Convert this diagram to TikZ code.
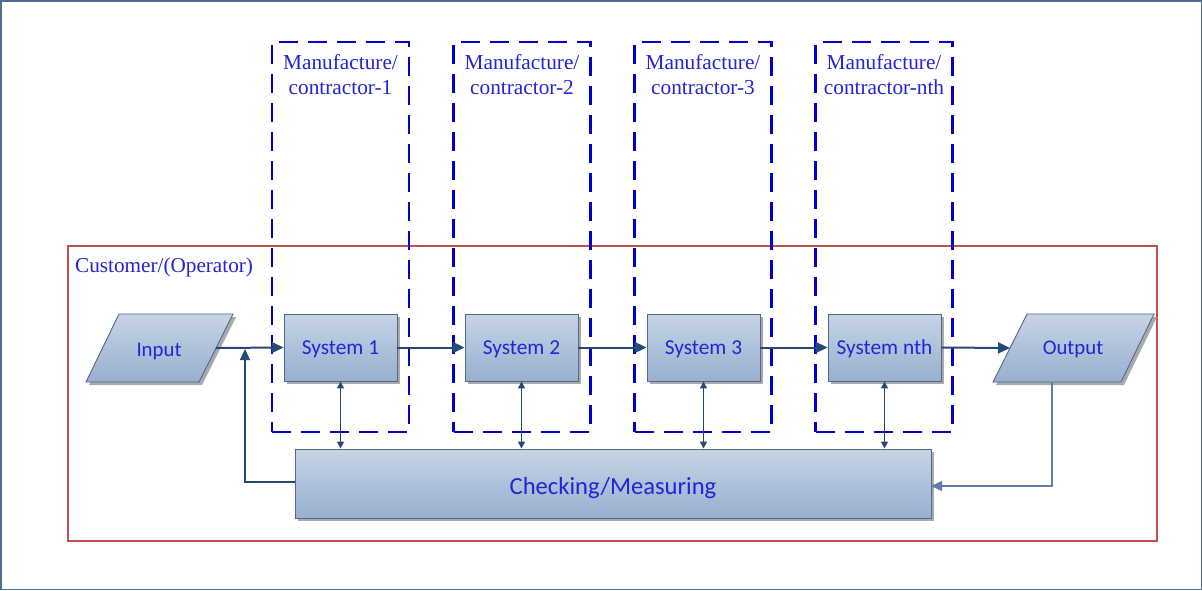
\documentclass[tikz,border=0pt]{standalone}
\usepackage{fontspec}
\setmainfont{Liberation Serif}
\newfontfamily\calfont{Carlito}
\usetikzlibrary{arrows.meta,shadows}
\definecolor{framecol}{RGB}{80,110,150}
\definecolor{redcol}{RGB}{192,80,77}
\definecolor{dashcol}{RGB}{0,0,204}
\definecolor{txtblue}{RGB}{35,35,215}
\definecolor{gtop}{RGB}{198,212,229}
\definecolor{gbot}{RGB}{152,175,207}
\definecolor{boxline}{RGB}{75,105,145}
\definecolor{arrowcol}{RGB}{38,74,120}
\definecolor{thincol}{RGB}{95,125,165}
\definecolor{shadowgray}{RGB}{170,170,170}
\begin{document}
\begin{tikzpicture}[x=1pt,y=-1pt,
  sysbox/.style={draw=boxline, line width=0.9pt, top color=gtop, bottom color=gbot,
    drop shadow={shadow xshift=3pt, shadow yshift=-3pt, fill=shadowgray, opacity=1},
    font=\calfont\fontsize{21.3}{24}\selectfont, text=txtblue, text depth=0pt,
    minimum width=113pt, minimum height=67pt, inner sep=0pt},
  dbox/.style={draw=dashcol, line width=2.8pt, dash pattern=on 19pt off 10pt,
    minimum width=137pt, minimum height=390pt, inner sep=0pt},
  mtext/.style={text=txtblue, font=\fontsize{21.3}{25}\selectfont, align=center, inner sep=0pt},
  plabel/.style={font=\calfont\fontsize{20.8}{24}\selectfont, text=txtblue, text depth=0pt, inner sep=0pt},
  flow/.style={draw=arrowcol, line width=2pt, -{Triangle[length=12pt,width=11pt]}},
  dbl/.style={draw=arrowcol, line width=1.4pt, {Triangle[length=7pt,width=7pt]}-{Triangle[length=7pt,width=7pt]}},
  fb/.style={draw=arrowcol, line width=1.2pt, -{Triangle[length=11pt,width=10pt]}},
  fbo/.style={draw=thincol, line width=1.3pt, -{Triangle[length=11pt,width=10pt]}},
]
\useasboundingbox (0,0) rectangle (1202,590);
\draw[framecol, line width=1.5pt] (0.75,0.75) rectangle (1201.25,589.25);

% customer box
\draw[redcol, line width=2.2pt] (68,246) rectangle (1157,541);
\node[text=txtblue, font=\fontsize{21.2}{24}\selectfont, anchor=west, inner sep=0pt] (cust) at (75,267) {Customer/(Operator)};

% manufacturer boxes
\node[dbox] (m1) at (340.5,237) {};
\node[dbox] (m2) at (522,237) {};
\node[dbox] (m3) at (703,237) {};
\node[dbox] (m4) at (884,237) {};
\node[mtext] (m1t) at (340.5,75) {Manufacture/\\contractor-1};
\node[mtext] (m2t) at (522,75) {Manufacture/\\contractor-2};
\node[mtext] (m3t) at (703,75) {Manufacture/\\contractor-3};
\node[mtext] (m4t) at (884,75) {Manufacture/\\contractor-nth};

% input parallelogram
\fill[shadowgray] (122,317) -- (236,317) -- (202,385) -- (89,385) -- cycle;
\shade[top color=gtop, bottom color=gbot, draw=boxline, line width=0.9pt] (119,314) -- (233,314) -- (199,382) -- (86,382) -- cycle;
\node[plabel] (in) at (159,350) {Input};
\coordinate (inR) at (216,348);

% output parallelogram
\fill[shadowgray] (1030,317) -- (1157,317) -- (1124,385) -- (996,385) -- cycle;
\shade[top color=gtop, bottom color=gbot, draw=boxline, line width=0.9pt] (1027,314) -- (1154,314) -- (1121,382) -- (993,382) -- cycle;
\node[plabel] (out) at (1073,347.5) {Output};
\coordinate (outL) at (1010,348);
\coordinate (outB) at (1052,382);

% systems
\node[sysbox] (s1) at (340.5,347.5) {System 1};
\node[sysbox] (s2) at (521.5,347.5) {System 2};
\node[sysbox] (s3) at (703.5,347.5) {System 3};
\node[sysbox] (s4) at (884.5,347.5) {System nth};

% checking
\node[sysbox, minimum width=636pt, minimum height=69pt, font=\calfont\fontsize{24.6}{28}\selectfont] (chk) at (613,483.5) {\raisebox{-5pt}{Checking/Measuring}};

% flow arrows
\draw[flow] (inR) -- (s1.west);
\draw[flow] (s1.east) -- (s2.west);
\draw[flow] (s2.east) -- (s3.west);
\draw[flow] (s3.east) -- (s4.west);
\draw[flow] (s4.east) -- (outL);

% double arrows
\draw[dbl] (s1.south) -- (s1.south |- chk.north);
\draw[dbl] (s2.south) -- (s2.south |- chk.north);
\draw[dbl] (s3.south) -- (s3.south |- chk.north);
\draw[dbl] (s4.south) -- (s4.south |- chk.north);

% feedback
\coordinate (fbS) at (295,482);
\coordinate (fbT) at (245,349);
\draw[fb] (fbS) -| (fbT);
\coordinate (chkE) at (931,486);
\draw[fbo] (outB) |- (chkE);
\end{tikzpicture}
\end{document}
